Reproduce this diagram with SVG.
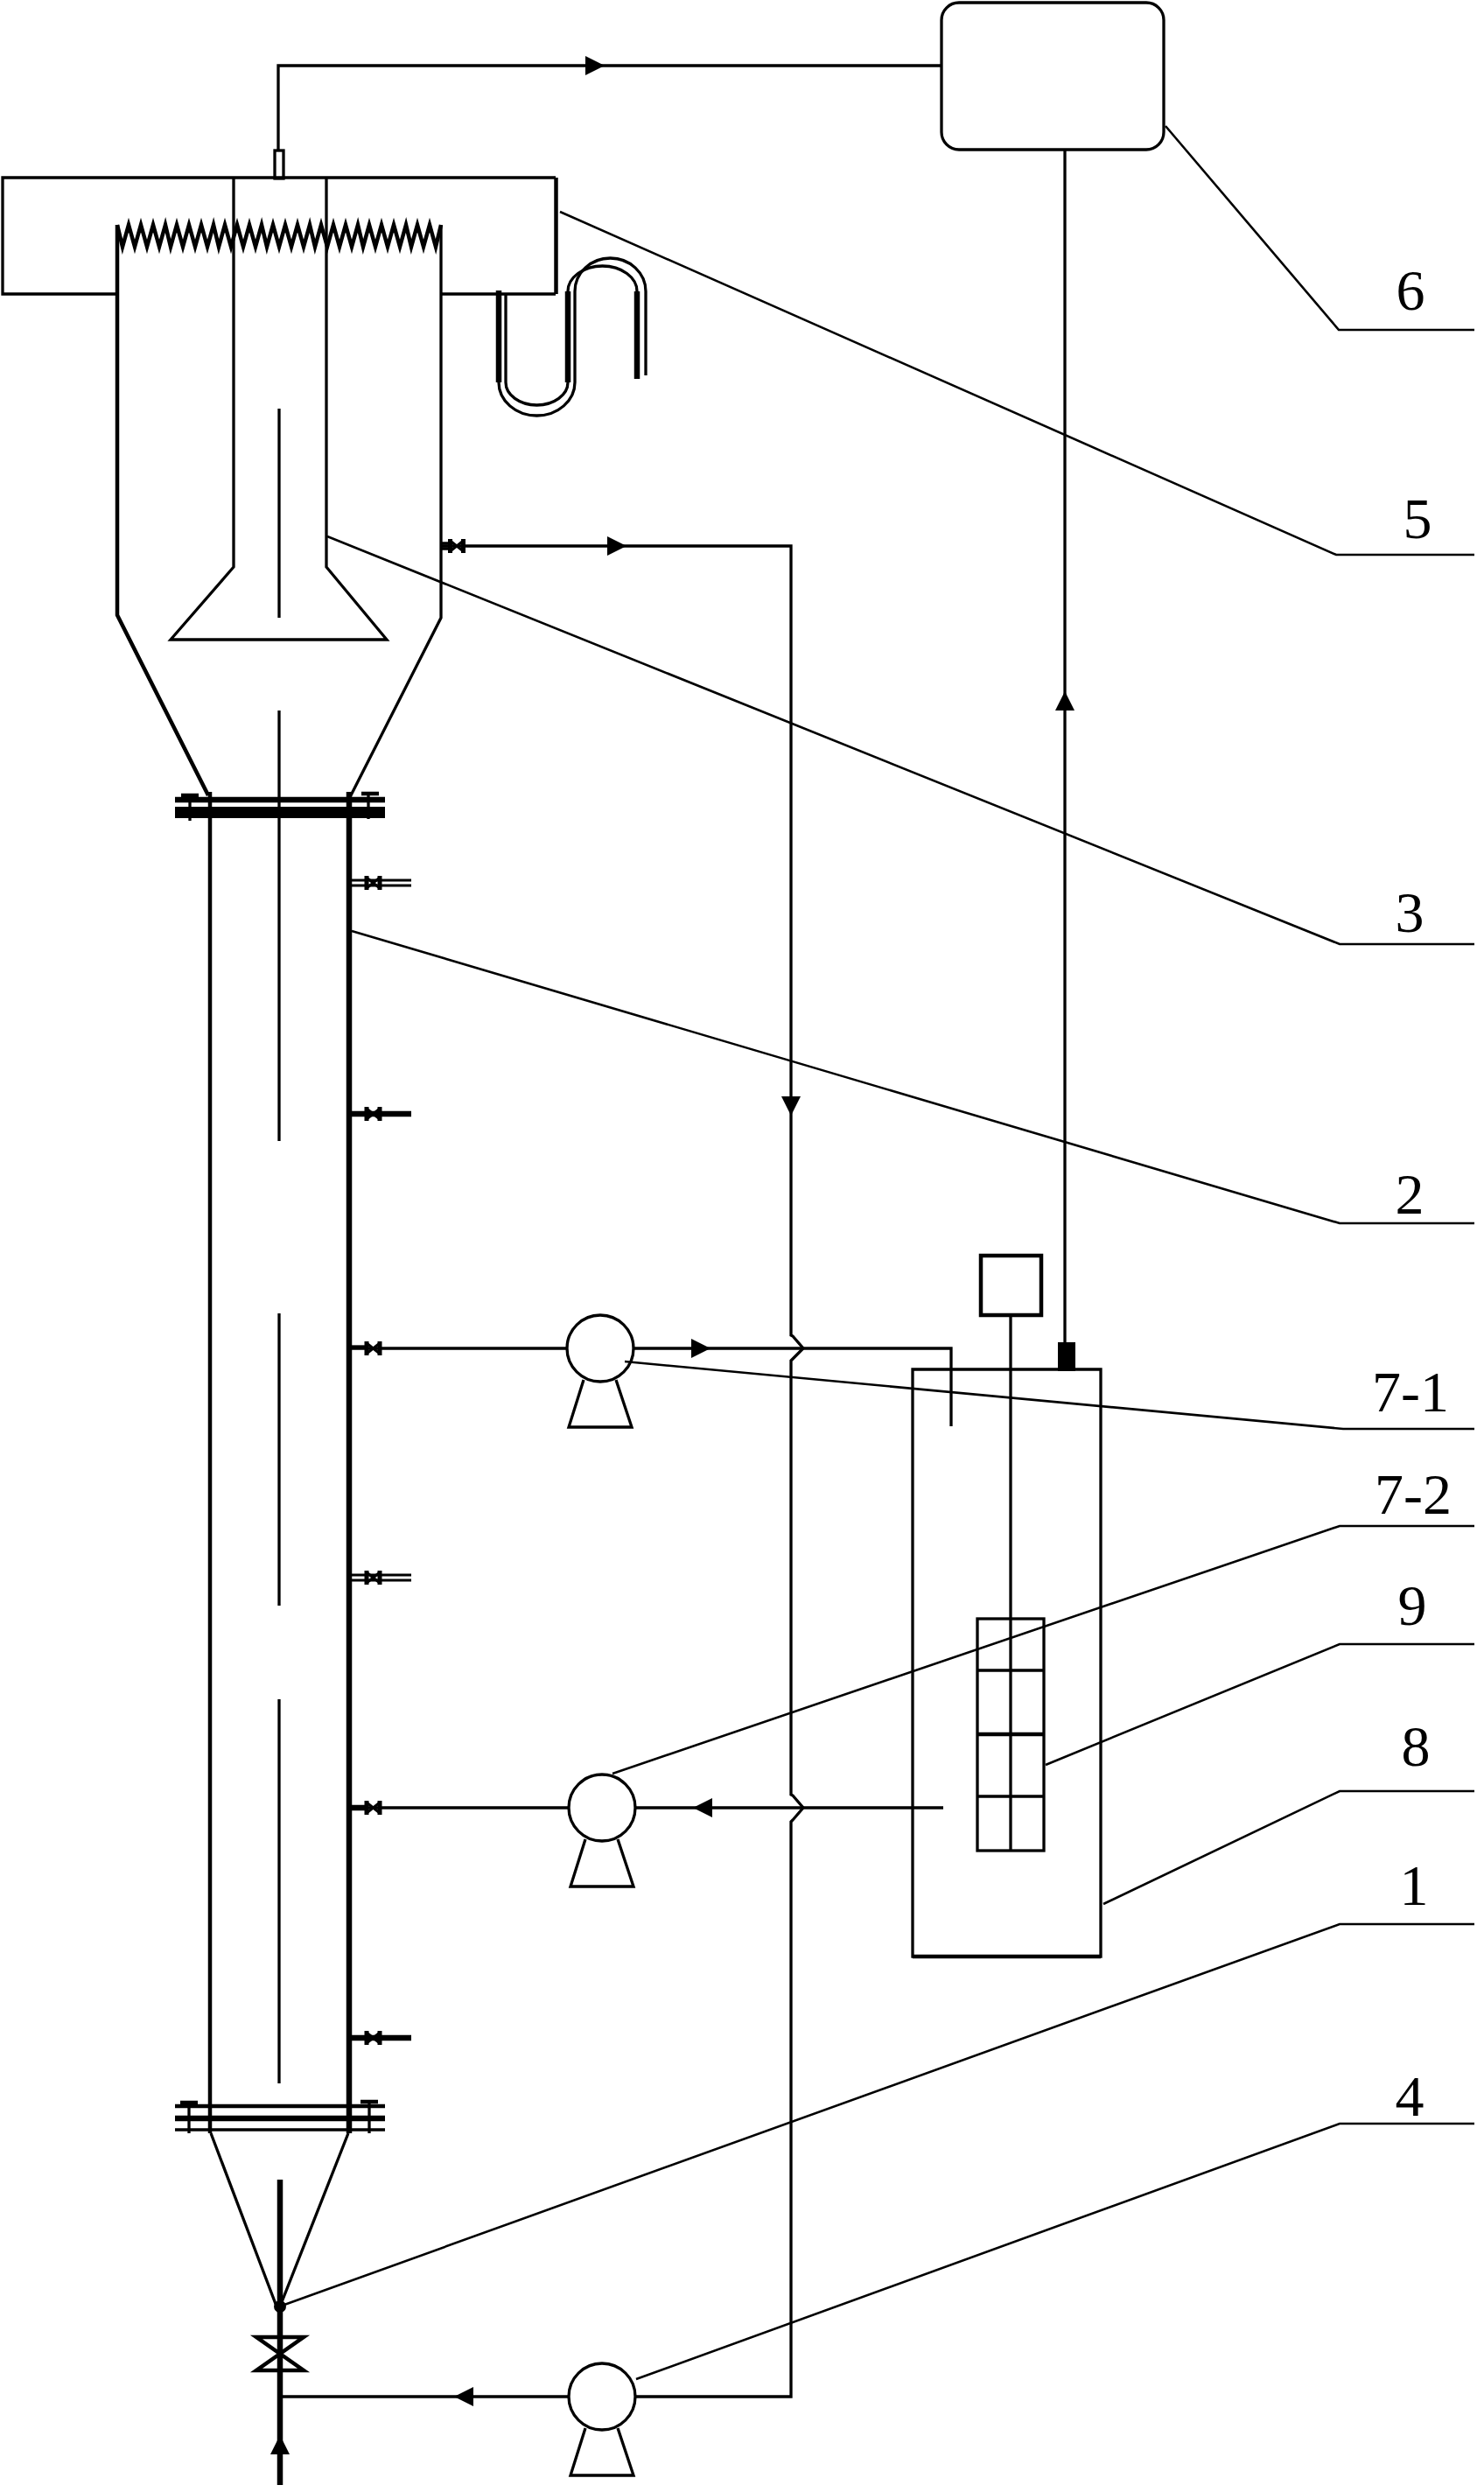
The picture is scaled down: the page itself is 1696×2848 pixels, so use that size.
<svg xmlns="http://www.w3.org/2000/svg" width="1696" height="2848" viewBox="0 0 1696 2848">
<style>
.l{fill:none;stroke:#000;stroke-width:3.300}
.w{fill:none;stroke:#000;stroke-width:4.500}
.t{fill:none;stroke:#000;stroke-width:6.500}
.f{fill:none;stroke:#000;stroke-width:2.600}
.s{fill:#000;stroke:none}
.v{fill:none;stroke:#000;stroke-width:3;}
text{font-family:"Liberation Serif","Times New Roman",serif;font-size:66px;fill:#000;text-anchor:middle}
</style>
<defs>
<path id="ar" class="s" d="M12 0L-10 -11V11Z"/>
<g id="valve"><path class="v" d="M-7.500 -6L7.500 6M-7.500 6L7.500 -6"/><path class="t" style="stroke-width:5" d="M-7.500 -8V8M7.500 -8V8"/></g>
<path id="pump-base" class="l" d="M-19 36L-36 90H36L18 36"/>
</defs>
<rect width="1696" height="2848" fill="#fff"/>
<g id="connectors">
<path class="l" d="M318 172V75H1076"/>
<use href="#ar" x="679" y="75"/>
<path class="l" d="M1217 171V1534"/>
<use href="#ar" transform="translate(1217 802) rotate(-90)"/>
<path class="l" d="M504 624H904V1526L906 1527L918 1541L906 1553L904 1555V2051L906 2052L918 2066L906 2080L904 2082V2739H727"/>
<use href="#ar" x="704" y="624"/>
<use href="#ar" transform="translate(904 1263) rotate(90)"/>
<path class="l" d="M399 1541H648M725 1541H1087V1630"/>
<use href="#ar" x="800" y="1541"/>
<path class="l" d="M399 2066H650M727 2066H1078"/>
<use href="#ar" transform="translate(804 2066) rotate(180)"/>
<path class="l" d="M320 2739H650"/>
<use href="#ar" transform="translate(531 2739) rotate(180)"/>
<use href="#ar" transform="translate(320 2795) rotate(-90)"/>
<path class="t" d="M320 2491V2840"/>
<path class="f" d="M1332 144L1530 377H1685"/>
<path class="f" d="M640 242L1527 634H1685"/>
<path class="f" d="M374 613L1531 1079H1685"/>
<path class="f" d="M402 1064L1531 1398H1685"/>
<path class="f" d="M714 1556L1535 1633H1685"/>
<path class="f" d="M700 2027L1531 1744H1685"/>
<path class="f" d="M1195 2017L1531 1879H1685"/>
<path class="f" d="M1261 2176L1531 2047H1685"/>
<path class="f" d="M325 2634L1531 2199H1685"/>
<path class="f" d="M727 2719L1531 2427H1685"/>
</g>
<g id="node-5">
<path class="l" d="M134 336H3V203H635"/>
<path class="l" d="M504 336H635"/>
<path class="w" d="M635.500 203V336"/>
<rect x="314" y="172" width="10" height="32" class="l"/>
<path class="w" d="M134 257L140 282L147 257L154 282L161 257L168 282L175 257L182 282L189 257L195 282L202 257L209 282L216 257L223 282L230 257L237 282L244 257L250 282L257 257L264 282L271 257L278 282L285 257L292 282L299 257L305 282L312 257L319 282L326 257L333 282L340 257L347 282L354 257L360 282L367 257L374 282L381 257L388 282L395 257L402 282L409 257L415 282L422 257L429 282L436 257L443 282L450 257L457 282L464 257L470 282L477 257L484 282L491 257L498 282L504 257"/>
</g>
<g id="node-u-tube">
<path class="l" d="M570 332V437A43.500 38 0 0 0 657 437V333A40.500 38 0 0 1 738 333V429"/>
<path class="l" d="M578 336V437A35.500 26 0 0 0 649 437V333A39.500 29 0 0 1 728 333V433"/>
<path class="t" d="M570 332V437M649 333V437M728 333V433"/>
</g>
<g id="node-3">
<path class="w" d="M134 257V703L238 909"/>
<path class="l" d="M504 257V706L401 909"/>
<path class="l" d="M267 203V648L195 731H442L373 648V203"/>
<path class="l" d="M319 467V706M319 812V1304M319 1501V1835M319 1942V2381"/>
</g>
<g id="node-2">
<path class="w" d="M240 905V2438"/>
<path class="t" d="M399 905V2438"/>
<path class="t" d="M200 914H440"/>
<rect x="200" y="922" width="240" height="13" class="s"/>
<path class="l" d="M217 908V938M421 906V936"/>
<path class="w" d="M207 909H227M413 907H433"/>
<path class="w" d="M200 2407H440"/>
<path class="l" d="M200 2434H440"/>
<path class="t" d="M200 2421H440"/>
<path class="l" d="M216 2401V2438M422 2401V2438"/>
<path class="w" d="M206 2403H226M412 2402H432"/>
<path class="l" d="M241 2438L318 2641L398 2438"/>
<circle cx="320" cy="2636" r="7" class="s"/>
</g>
<g id="node-valves">
<use href="#valve" x="522" y="624"/>
<path class="l" d="M504 621H515M504 627H515"/>
<use href="#valve" x="426.500" y="1009"/>
<path class="v" d="M402 1006H470M402 1012H470"/>
<use href="#valve" x="426.500" y="1273"/>
<path class="t" d="M402 1273H470"/>
<use href="#valve" x="426.500" y="1541"/>
<path class="l" d="M402 1539H419"/>
<use href="#valve" x="426.500" y="1803"/>
<path class="v" d="M402 1800H470M402 1806H470"/>
<use href="#valve" x="426.500" y="2066"/>
<path class="t" d="M402 2066H419"/>
<use href="#valve" x="426.500" y="2329"/>
<path class="t" d="M402 2329H470"/>
<path class="w" d="M293 2671H347L293 2709H347Z"/>
</g>
<g id="node-7-1">
<circle cx="686" cy="1541" r="38" class="l"/>
<use href="#pump-base" x="686" y="1541"/>
</g>
<g id="node-7-2">
<circle cx="688" cy="2066" r="38" class="l"/>
<use href="#pump-base" x="688" y="2066"/>
</g>
<g id="node-4">
<circle cx="688" cy="2739" r="38" class="l"/>
<use href="#pump-base" x="688" y="2739"/>
</g>
<g id="node-6">
<rect x="1076" y="3" width="254" height="168" rx="20" class="l"/>
</g>
<g id="node-8">
<path class="l" d="M1043 1565H1258V2236H1043Z"/>
<path class="w" d="M1043 2236H1258"/>
<rect x="1209" y="1534" width="20" height="33" class="s"/>
<rect x="1121" y="1435" width="69" height="68" class="w"/>
<path class="l" d="M1155 1503V2115"/>
</g>
<g id="node-9">
<rect x="1117" y="1850" width="76" height="265" class="l"/>
<path class="l" d="M1117 1909H1193M1117 2053H1193"/>
<path class="w" d="M1117 1982H1193"/>
</g>
<g id="labels">
<text x="1612" y="354">6</text>
<text x="1620" y="615">5</text>
<text x="1611" y="1065">3</text>
<text x="1611" y="1387">2</text>
<text x="1612" y="1613">7-1</text>
<text x="1615" y="1730">7-2</text>
<text x="1614" y="1857">9</text>
<text x="1618" y="2018">8</text>
<text x="1616" y="2177">1</text>
<text x="1611" y="2418">4</text>
</g>
</svg>
